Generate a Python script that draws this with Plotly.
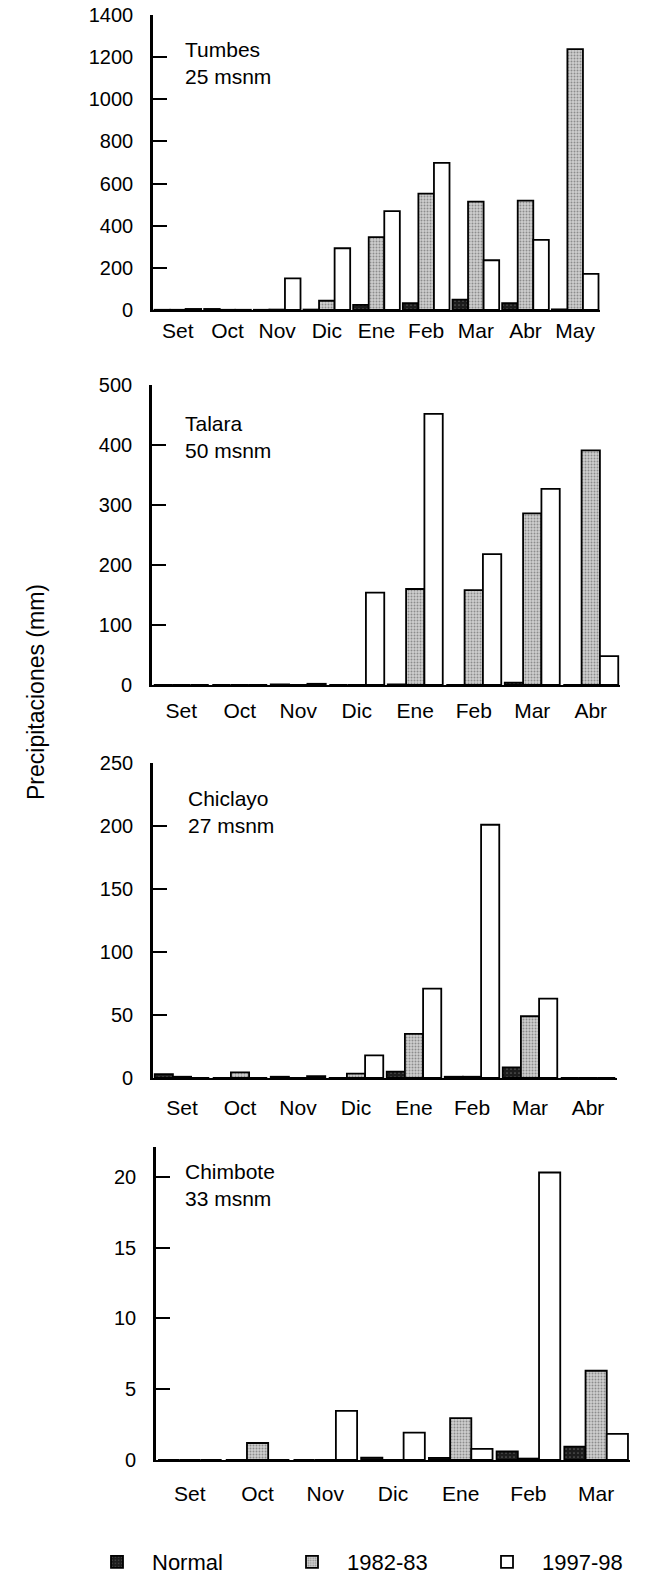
import plotly.graph_objects as go

# ---------------- data ----------------
series_names = ["Normal", "1982-83", "1997-98"]

tumbes_months = ["Set", "Oct", "Nov", "Dic", "Ene", "Feb", "Mar", "Abr", "May"]
tumbes_normal = [1, 5, 1, 2, 24, 32, 49, 32, 3]
tumbes_8283 = [1, 1, 2, 44, 346, 552, 514, 519, 1238]
tumbes_9798 = [5, 1, 150, 293, 469, 698, 236, 333, 171]

talara_months = ["Set", "Oct", "Nov", "Dic", "Ene", "Feb", "Mar", "Abr"]
talara_normal = [0, 0, 1, 0, 1, 0, 4, 0]
talara_8283 = [0, 0, 0, 0, 160, 158, 286, 391]
talara_9798 = [0, 0, 2, 154, 452, 218, 327, 48]

chiclayo_months = ["Set", "Oct", "Nov", "Dic", "Ene", "Feb", "Mar", "Abr"]
chiclayo_normal = [3, 0, 1, 0, 5, 1, 8.5, 0]
chiclayo_8283 = [1, 4.5, 0, 3.5, 35, 1, 49, 0]
chiclayo_9798 = [0, 0, 1.5, 18, 71, 201, 63, 0]

chimbote_months = ["Set", "Oct", "Nov", "Dic", "Ene", "Feb", "Mar"]
chimbote_normal = [0, 0, 0, 0.17, 0.15, 0.6, 0.95]
chimbote_8283 = [0, 1.2, 0, 0, 2.95, 0.1, 6.3]
chimbote_9798 = [0, 0, 3.47, 1.93, 0.78, 20.3, 1.85]

station_labels = ["Tumbes<br>25 msnm", "Talara<br>50 msnm",
                  "Chiclayo<br>27 msnm", "Chimbote<br>33 msnm"]
y_title = "Precipitaciones (mm)"

# ---------------- layout helpers ----------------
W, H = 670, 1575
FONT = "Liberation Sans, Arial, Helvetica, sans-serif"

def fx(px):
    return px / W

def fy(py):
    return (H - py) / H

panels = [
    dict(months=tumbes_months, vals=[tumbes_normal, tumbes_8283, tumbes_9798],
         x0=153, x1=600, ytop=15, ybot=310, yrange=[0, 1400], dtick=200,
         lab=station_labels[0], labx=183, laby=36, xstand=1),
    dict(months=talara_months, vals=[talara_normal, talara_8283, talara_9798],
         x0=152, x1=620, ytop=385, ybot=685, yrange=[0, 500], dtick=100,
         lab=station_labels[1], labx=183, laby=410, xstand=6),
    dict(months=chiclayo_months, vals=[chiclayo_normal, chiclayo_8283, chiclayo_9798],
         x0=153, x1=617, ytop=763, ybot=1078, yrange=[0, 250], dtick=50,
         lab=station_labels[2], labx=186, laby=785, xstand=10),
    dict(months=chimbote_months, vals=[chimbote_normal, chimbote_8283, chimbote_9798],
         x0=156, x1=630, ytop=1147, ybot=1460, yrange=[0, 22.1], dtick=5,
         lab=station_labels[3], labx=183, laby=1158, xstand=14),
]

styles = [
    dict(color="#1c1c1c",
         pattern=dict(shape=".", bgcolor="#1c1c1c", fgcolor="#9a9a9a", size=4, solidity=0.15)),
    dict(color="#b8b8b8",
         pattern=dict(shape=".", bgcolor="#cfcfcf", fgcolor="#4a4a4a", size=3, solidity=0.35)),
    dict(color="white"),
]

fig = go.Figure()
annotations = []
layout_axes = {}

for i, p in enumerate(panels):
    n = i + 1
    xa = "x" if n == 1 else f"x{n}"
    ya = "y" if n == 1 else f"y{n}"
    for s, (name, vals) in enumerate(zip(series_names, p["vals"])):
        st = styles[s]
        marker = dict(color=st["color"], line=dict(color="black", width=1.8))
        if "pattern" in st:
            marker["pattern"] = st["pattern"]
        fig.add_trace(go.Bar(
            x=p["months"], y=vals, name=name, xaxis=xa, yaxis=ya,
            marker=marker, legendgroup=name, showlegend=(n == 1),
        ))
    xkey = "xaxis" if n == 1 else f"xaxis{n}"
    ykey = "yaxis" if n == 1 else f"yaxis{n}"
    layout_axes[xkey] = dict(
        domain=[fx(p["x0"]), fx(p["x1"])], anchor=ya, type="category",
        categoryorder="array", categoryarray=p["months"],
        range=[-0.5, len(p["months"]) - 0.5],
        showline=True, linecolor="black", linewidth=2.2, ticks="",
        showgrid=False, zeroline=False, fixedrange=True,
        tickfont=dict(family=FONT, size=21, color="black"),
        ticklabelstandoff=p["xstand"],
    )
    layout_axes[ykey] = dict(
        domain=[fy(p["ybot"]), fy(p["ytop"])], anchor=xa,
        range=p["yrange"], tick0=0, dtick=p["dtick"],
        showline=True, linecolor="black", linewidth=2.6,
        ticks="inside", ticklen=14, tickwidth=2.2, tickcolor="black",
        showgrid=False, zeroline=False, fixedrange=True,
        tickfont=dict(family=FONT, size=20, color="black"),
        ticklabelstandoff=13,
    )
    annotations.append(dict(
        text=p["lab"], xref="paper", yref="paper",
        x=fx(p["labx"]), y=fy(p["laby"]), xanchor="left", yanchor="top",
        align="left", showarrow=False,
        font=dict(family=FONT, size=21, color="black"),
    ))

annotations.append(dict(
    text=y_title, xref="paper", yref="paper", x=fx(36), y=fy(692),
    xanchor="center", yanchor="middle", textangle=-90, showarrow=False,
    font=dict(family=FONT, size=23, color="black"),
))

fig.update_layout(
    width=W, height=H, margin=dict(l=0, r=0, t=0, b=0, pad=0, autoexpand=False),
    paper_bgcolor="white", plot_bgcolor="white",
    barmode="group", bargap=0.06, bargroupgap=0.0,
    annotations=annotations,
    legend=dict(orientation="h", x=fx(82), y=fy(1562), xanchor="left", yanchor="middle",
                itemwidth=60, entrywidth=120, entrywidthmode="pixels",
                font=dict(family=FONT, size=22, color="black"),
                bgcolor="rgba(0,0,0,0)", traceorder="normal"),
    **layout_axes,
)

fig.write_html("out.html", config={"displayModeBar": False},
               post_script="document.body.style.margin='0';")
